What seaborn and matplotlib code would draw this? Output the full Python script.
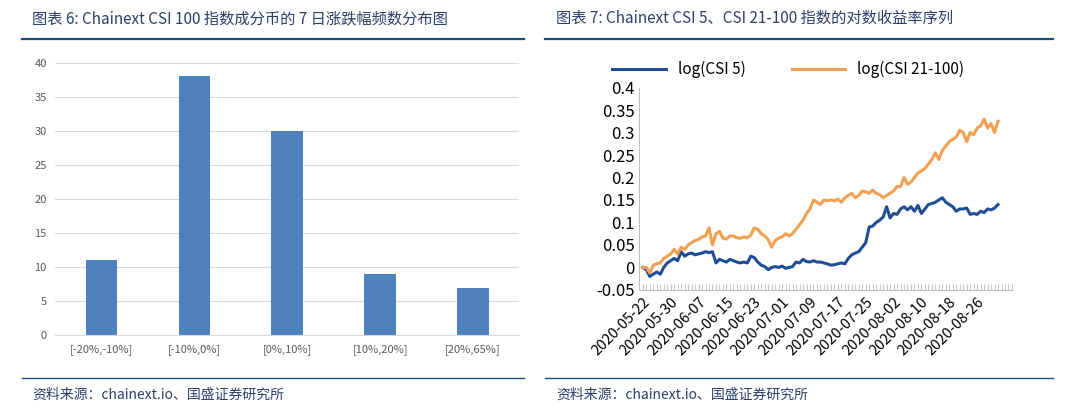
import numpy as np
import pandas as pd
import matplotlib
matplotlib.use("Agg")
import matplotlib.pyplot as plt
import matplotlib.dates as mdates
import seaborn as sns

matplotlib.rcParams['font.family'] = ["Noto Sans CJK SC", "DejaVu Sans"]

# %% data
binLabels = ["[-20%,-10%]", "[-10%,0%]", "[0%,10%]", "[10%,20%]", "[20%,65%]"]
binCounts = [11, 38, 30, 9, 7]

startDate = "2020-05-22"
csi5 = [0, -0.005, -0.02, -0.015, -0.01, -0.015, 0, 0.01, 0.015, 0.02, 0.015, 0.035,
        0.025, 0.03, 0.032, 0.028, 0.03, 0.032, 0.035, 0.033, 0.035, 0.01, 0.018, 0.015,
        0.012, 0.018, 0.015, 0.012, 0.01, 0.012, 0.01, 0.025, 0.022, 0.012, 0.005, 0.002,
        -0.005, 0, 0.002, 0, 0.003, -0.002, 0, 0.002, 0.012, 0.01, 0.018, 0.013, 0.012,
        0.015, 0.012, 0.012, 0.01, 0.008, 0.005, 0.006, 0.008, 0.01, 0.008, 0.02, 0.028,
        0.032, 0.035, 0.045, 0.055, 0.09, 0.092, 0.1, 0.105, 0.112, 0.135, 0.11, 0.12,
        0.118, 0.13, 0.135, 0.128, 0.135, 0.125, 0.138, 0.12, 0.13, 0.14, 0.142, 0.145,
        0.15, 0.155, 0.145, 0.14, 0.135, 0.125, 0.13, 0.13, 0.132, 0.118, 0.12, 0.118,
        0.125, 0.122, 0.13, 0.128, 0.132, 0.14]
csi21_100 = [0, 0, -0.012, 0.005, 0.008, 0.01, 0.02, 0.025, 0.03, 0.04, 0.03, 0.045,
             0.04, 0.05, 0.055, 0.06, 0.062, 0.068, 0.07, 0.088, 0.05, 0.075, 0.08, 0.065,
             0.063, 0.07, 0.07, 0.066, 0.065, 0.068, 0.066, 0.072, 0.088, 0.085, 0.075,
             0.07, 0.062, 0.045, 0.06, 0.065, 0.068, 0.075, 0.07, 0.075, 0.085, 0.095,
             0.105, 0.12, 0.13, 0.15, 0.145, 0.14, 0.15, 0.148, 0.15, 0.148, 0.152, 0.145,
             0.155, 0.16, 0.165, 0.155, 0.16, 0.17, 0.168, 0.165, 0.172, 0.165, 0.162,
             0.155, 0.16, 0.165, 0.17, 0.18, 0.18, 0.2, 0.185, 0.19, 0.2, 0.21, 0.215,
             0.22, 0.23, 0.24, 0.255, 0.24, 0.26, 0.27, 0.28, 0.285, 0.29, 0.305, 0.3,
             0.28, 0.3, 0.295, 0.31, 0.315, 0.33, 0.31, 0.32, 0.3, 0.325]
dateLabels = ["2020-05-22", "2020-05-30", "2020-06-07", "2020-06-15", "2020-06-23",
              "2020-07-01", "2020-07-09", "2020-07-17", "2020-07-25", "2020-08-02",
              "2020-08-10", "2020-08-18", "2020-08-26"]

titleLeft = "图表 6: Chainext CSI 100 指数成分币的 7 日涨跌幅频数分布图"
titleRight = "图表 7: Chainext CSI 5、CSI 21-100 指数的对数收益率序列"
sourceText = "资料来源：chainext.io、国盛证券研究所"

# %% figure
fig = plt.figure(figsize=(10.8, 4.13), dpi=100)
titleColor = "#2B3F6B"
lineColor = "#1F4E79"

for x0, x1, title in [(0.02, 0.485, titleLeft), (0.505, 0.975, titleRight)]:
    fig.text(x0 + 0.01, 0.955, title, fontsize=11, style="italic", color=titleColor, va="center")
    fig.add_artist(plt.Line2D([x0, x1], [0.905, 0.905], color=lineColor, lw=1.6))
    fig.add_artist(plt.Line2D([x0, x1], [0.085, 0.085], color=lineColor, lw=1.0))
    fig.text(x0 + 0.01, 0.045, sourceText, fontsize=10, style="italic", color=titleColor, va="center")

# left: bar chart
axL = fig.add_axes([0.051, 0.188, 0.43, 0.66])
barDf = pd.DataFrame({"bin": binLabels, "count": binCounts})
sns.barplot(data=barDf, x="bin", y="count", color="#4F81BD", saturation=1, width=0.34, ax=axL)
axL.set_ylim(0, 40)
axL.set_yticks(range(0, 41, 5))
axL.yaxis.grid(True, color="#D9D9D9", lw=0.8)
axL.set_axisbelow(True)
for s in ["top", "right", "left"]:
    axL.spines[s].set_visible(False)
axL.spines["bottom"].set_color("#D9D9D9")
axL.tick_params(length=0, labelsize=8, colors="#595959", pad=6)
axL.set_xlabel("")
axL.set_ylabel("")

# right: line chart
dates = pd.date_range(startDate, periods=len(csi5), freq="D")
lineDf = pd.DataFrame({"date": dates, "log(CSI 5)": csi5, "log(CSI 21-100)": csi21_100})
lineDf = lineDf.melt(id_vars="date", var_name="series", value_name="value")
axR = fig.add_axes([0.592, 0.298, 0.345, 0.49])
sns.lineplot(data=lineDf, x="date", y="value", hue="series",
             palette=["#1F4E96", "#F0A050"], lw=2.2, ax=axR)
axR.set_ylim(-0.05, 0.4)
axR.set_yticks(np.arange(-0.05, 0.401, 0.05))
axR.set_yticklabels(["-0.05", "0", "0.05", "0.1", "0.15", "0.2", "0.25", "0.3", "0.35", "0.4"])
axR.set_xlim(dates[0] - pd.Timedelta(days=1), dates[-1] + pd.Timedelta(days=4))
axR.set_xticks(pd.to_datetime(dateLabels))
axR.set_xticklabels(dateLabels)
axR.xaxis.set_minor_locator(mdates.DayLocator(interval=1))
axR.spines["bottom"].set_position(("data", -0.05))
for s in ["top", "right"]:
    axR.spines[s].set_visible(False)
axR.spines["left"].set_color("#BFBFBF")
axR.spines["bottom"].set_color("#BFBFBF")
axR.tick_params(axis="y", length=0, labelsize=12)
axR.tick_params(axis="x", which="both", length=4, color="#BFBFBF", direction="in")
plt.setp(axR.get_xticklabels(), rotation=45, ha="right", rotation_mode="anchor", fontsize=10.5)
axR.set_xlabel("")
axR.set_ylabel("")
axR.legend(loc="lower center", bbox_to_anchor=(0.4, 0.98), ncol=2, frameon=False,
           fontsize=11, handlelength=3.5, columnspacing=3)

fig.savefig("out.png", dpi=100)
